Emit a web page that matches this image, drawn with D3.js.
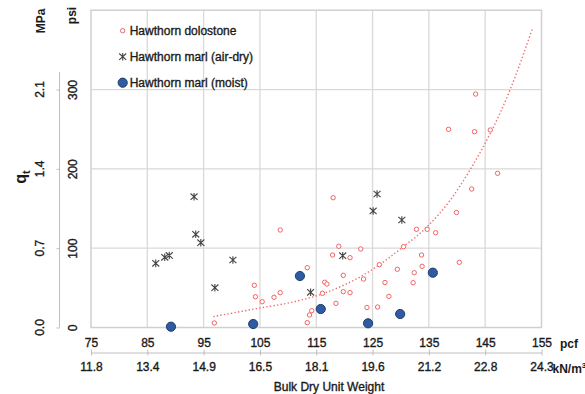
<!DOCTYPE html>
<html>
<head>
<meta charset="utf-8">
<script src="https://cdn.jsdelivr.net/npm/d3@7"></script>
<style>
  body { margin: 0; background: #fff; }
  svg text { font-family: "Liberation Sans", Arial, sans-serif; fill: #1a1a1a; }
</style>
</head>
<body>
<div id="chart"></div>
<script>
// axis ticks (pcf on top row, kN/m3 equivalents below)
const pcfTicks = [75, 85, 95, 105, 115, 125, 135, 145, 155];
const knLabels = ["11.8", "13.4", "14.9", "16.5", "18.1", "19.6", "21.2", "22.8", "24.3"];
const psiTicks = [0, 100, 200, 300];
const mpaLabels = ["0.0", "0.7", "1.4", "2.1"];

// [dry unit weight pcf, qt psi]
const dolostone = [
  [104.0, 53.2], [104.2, 38.8], [105.4, 32.5], [96.9, 5.7], [108.6, 122.9],
  [118.0, 163.6], [107.5, 38.1], [108.6, 43.9], [113.4, 75.4], [113.4, 6.1],
  [113.8, 15.8], [114.2, 21.2], [116.1, 43.1], [116.5, 57.0], [116.9, 54.8],
  [117.9, 91.4], [119.0, 102.4], [121.0, 88.0], [119.8, 65.8], [119.8, 45.1],
  [121.0, 43.9], [118.5, 30.5], [122.9, 99.0], [123.4, 61.1], [124.0, 25.2],
  [125.9, 25.8], [127.2, 56.7], [127.9, 39.3], [129.4, 73.4], [130.5, 101.9],
  [132.4, 69.1], [132.2, 56.5], [133.7, 91.4], [133.8, 77.1], [132.8, 123.8],
  [134.7, 123.8], [136.2, 119.5], [139.9, 145.0], [140.4, 82.2], [126.2, 79.2],
  [143.3, 294.3], [138.5, 249.8], [143.1, 246.8], [145.9, 249.0], [147.2, 194.4],
  [142.6, 174.6]
];
const marlAirDry = [
  [93.3, 164.9], [93.6, 117.5], [94.5, 106.9], [88.1, 88.5], [88.9, 90.8],
  [86.5, 80.9], [100.2, 85.1], [97.0, 50.2], [125.8, 168.3], [125.1, 146.9],
  [130.2, 135.5], [119.7, 90.5], [114.0, 44.4]
];
const marlMoist = [
  [89.2, 1.0], [103.8, 4.4], [112.1, 64.9], [115.8, 23.3], [124.2, 5.3],
  [129.9, 17.0], [135.7, 69.1]
];
// dotted trend line
const trend = [
  [96.7, 13.7], [105.0, 24.6], [110.3, 31.3], [116.0, 42.2], [124.5, 71.0],
  [130.5, 102.0], [134.7, 127.0], [138.8, 160.7], [142.3, 198.5],
  [149.4, 299.4], [153.4, 377.0]
];
const legendNames = ["Hawthorn dolostone", "Hawthorn marl (air-dry)", "Hawthorn marl (moist)"];

const W = 585, H = 394;
const plot = {left: 91, right: 541.5, top: 10.2, bottom: 327.5};

const svg = d3.select("#chart").append("svg")
    .attr("width", W)
    .attr("height", H);

const x = d3.scaleLinear().domain([75, 155]).range([plot.left, plot.right]);
const y = d3.scaleLinear().domain([0, 400]).range([plot.bottom, plot.top]);

const gridColor = "#d9d9d9";

// gridlines
svg.append("g")
    .selectAll("line")
    .data(pcfTicks.slice(1, -1))
    .enter().append("line")
    .attr("x1", d => x(d)).attr("x2", d => x(d))
    .attr("y1", plot.top).attr("y2", plot.bottom)
    .attr("stroke", gridColor)
    .attr("stroke-width", 1.3);

svg.append("g")
    .selectAll("line")
    .data(psiTicks.slice(1))
    .enter().append("line")
    .attr("x1", plot.left).attr("x2", plot.right)
    .attr("y1", d => y(d)).attr("y2", d => y(d))
    .attr("stroke", gridColor)
    .attr("stroke-width", 1.3);

// plot frame
svg.append("rect")
    .attr("x", plot.left).attr("y", plot.top)
    .attr("width", plot.right - plot.left)
    .attr("height", plot.bottom - plot.top)
    .attr("fill", "none")
    .attr("stroke", "#d0d0d0")
    .attr("stroke-width", 1.5);

// bottom axis, pcf
const xAxisTop = svg.append("g")
    .attr("transform", `translate(0,${plot.bottom})`)
    .call(d3.axisBottom(x).tickValues(pcfTicks).tickSize(0).tickPadding(11));
xAxisTop.select(".domain").remove();
xAxisTop.selectAll("text")
    .style("font-size", "12px")
    .attr("fill", "#1a1a1a")
    .attr("stroke", "#1a1a1a").attr("stroke-width", 0.35);

svg.append("text")
    .attr("x", 560)
    .attr("y", 347.5)
    .style("font-size", "12px")
    .style("font-weight", "bold")
    .text("pcf");

// second bottom axis, kN/m3
const xAxisLow = svg.append("g")
    .attr("transform", "translate(0,352.5)")
    .call(d3.axisBottom(x).tickValues(pcfTicks).tickSize(3).tickSizeOuter(0).tickPadding(7)
        .tickFormat((d, i) => knLabels[i]));
xAxisLow.select(".domain").attr("stroke", "#bfbfbf");
xAxisLow.selectAll(".tick line").attr("y1", -3).attr("stroke", "#bfbfbf");
xAxisLow.selectAll("text")
    .style("font-size", "12px")
    .attr("fill", "#1a1a1a")
    .attr("stroke", "#1a1a1a").attr("stroke-width", 0.35);

svg.append("text")
    .attr("x", x(155) + 11)
    .attr("y", 372.5)
    .style("font-size", "12px")
    .style("font-weight", "bold")
    .text("kN/m")
  .append("tspan")
    .attr("dy", -5)
    .style("font-size", "8px")
    .text("3");

svg.append("text")
    .attr("x", 329)
    .attr("y", 391)
    .attr("text-anchor", "middle")
    .style("font-size", "12px")
    .attr("stroke", "#1a1a1a").attr("stroke-width", 0.35)
    .text("Bulk Dry Unit Weight");

// left axis, psi
const yAxis = svg.append("g")
    .attr("transform", "translate(59.5,0)")
    .call(d3.axisLeft(y).tickValues(psiTicks).tickSize(3).tickSizeOuter(0).tickFormat(d3.format("d")));
yAxis.select(".domain").attr("d", `M0,72V${plot.bottom}`).attr("stroke", "#bfbfbf");
yAxis.selectAll(".tick line").attr("stroke", "#bfbfbf");
yAxis.selectAll("text")
    .attr("x", 0).attr("dy", null)
    .attr("text-anchor", "middle")
    .attr("transform", "rotate(-90) translate(0,17)")
    .style("font-size", "12px")
    .attr("fill", "#1a1a1a")
    .attr("stroke", "#1a1a1a").attr("stroke-width", 0.35);

// MPa labels beside psi labels
svg.append("g")
    .selectAll("text")
    .data(psiTicks)
    .enter().append("text")
    .attr("transform", d => `translate(44,${y(d)}) rotate(-90)`)
    .attr("text-anchor", "middle")
    .style("font-size", "12px")
    .attr("stroke", "#1a1a1a").attr("stroke-width", 0.35)
    .text((d, i) => mpaLabels[i]);

svg.append("text")
    .attr("transform", "translate(44.5,21) rotate(-90)")
    .attr("text-anchor", "middle")
    .style("font-size", "12px")
    .style("font-weight", "bold")
    .text("MPa");

svg.append("text")
    .attr("transform", "translate(75.5,15.5) rotate(-90)")
    .attr("text-anchor", "middle")
    .style("font-size", "12px")
    .style("font-weight", "bold")
    .text("psi");

const qt = svg.append("text")
    .attr("transform", "translate(26,177) rotate(-90)")
    .attr("text-anchor", "middle")
    .style("font-size", "16px")
    .style("font-weight", "bold")
    .text("q");
qt.append("tspan")
    .attr("dy", 4)
    .style("font-size", "11px")
    .text("t");

// trend line
svg.append("path")
    .datum(trend)
    .attr("fill", "none")
    .attr("stroke", "#f36d6d")
    .attr("stroke-width", 1.4)
    .attr("stroke-dasharray", "1.4,2.2")
    .attr("d", d3.line().x(d => x(d[0])).y(d => y(d[1])).curve(d3.curveMonotoneX));

// markers
// excel-style star: an X crossed by a short vertical stroke
const starPath = "M-3.5,-3.2L3.5,3.2M-3.5,3.2L3.5,-3.2M0,-3.8V3.8";

function drawDolo(g, data) {
  g.selectAll("circle.dolo")
      .data(data)
      .enter().append("circle")
      .attr("class", "dolo")
      .attr("cx", d => x(d[0]))
      .attr("cy", d => y(d[1]))
      .attr("r", 2.2)
      .attr("fill", "#fff")
      .attr("stroke", "#f26464")
      .attr("stroke-width", 1);
}

const marks = svg.append("g");
drawDolo(marks, dolostone);

marks.selectAll("path.air")
    .data(marlAirDry)
    .enter().append("path")
    .attr("class", "air")
    .attr("transform", d => `translate(${x(d[0])},${y(d[1])})`)
    .attr("d", starPath)
    .attr("fill", "none")
    .attr("stroke", "#444")
    .attr("stroke-width", 1.1);

marks.selectAll("circle.moist")
    .data(marlMoist)
    .enter().append("circle")
    .attr("class", "moist")
    .attr("cx", d => x(d[0]))
    .attr("cy", d => y(d[1]))
    .attr("r", 4.6)
    .attr("fill", "#2f5ba3")
    .attr("stroke", "#1f3d6e")
    .attr("stroke-width", 1);

// legend
const legend = svg.append("g").attr("transform", "translate(122.7,30.7)");
legend.append("circle")
    .attr("cx", 0).attr("cy", 0).attr("r", 2.2)
    .attr("fill", "#fff").attr("stroke", "#f26464").attr("stroke-width", 1);
legend.append("path")
    .attr("transform", "translate(0,26)")
    .attr("d", starPath)
    .attr("fill", "none").attr("stroke", "#444").attr("stroke-width", 1.1);
legend.append("circle")
    .attr("cx", 0).attr("cy", 52).attr("r", 4.6)
    .attr("fill", "#2f5ba3").attr("stroke", "#1f3d6e").attr("stroke-width", 1);

legendNames.forEach((name, i) => {
  legend.append("text")
      .attr("x", 7)
      .attr("y", i * 26 + 4.3)
      .style("font-size", "12px")
      .attr("stroke", "#1a1a1a").attr("stroke-width", 0.35)
      .text(name);
});
</script>
</body>
</html>
